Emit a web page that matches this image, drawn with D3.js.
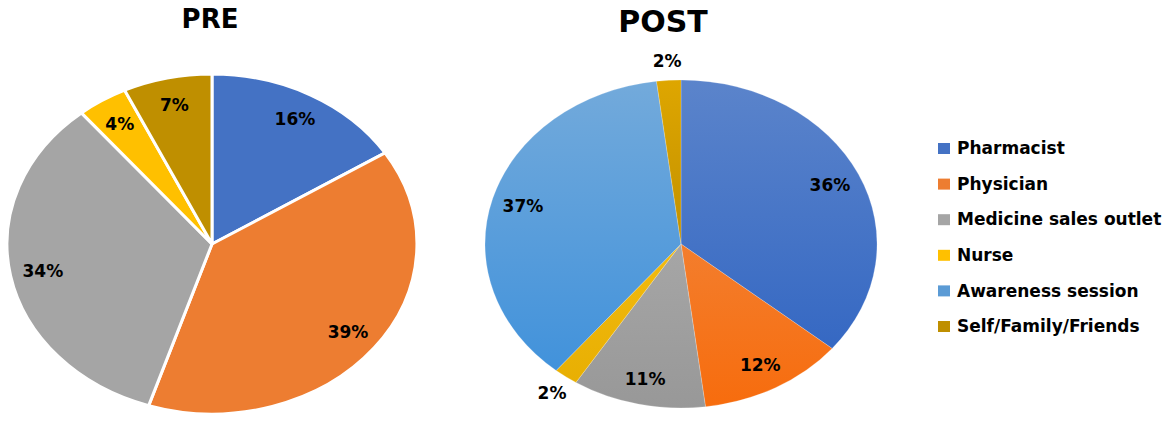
<!DOCTYPE html>
<html>
<head>
<meta charset="utf-8">
<script src="https://cdn.jsdelivr.net/npm/d3@7"></script>
<style>
  body { margin: 0; background: #fff; }
  svg text { font-family: "DejaVu Sans", Verdana, sans-serif; font-weight: bold; fill: #000; }
</style>
</head>
<body>
<svg id="chart" width="1170" height="427"></svg>
<script>
// Sources of information, same order in both pies
var categories = ["Pharmacist", "Physician", "Medicine sales outlet", "Nurse", "Awareness session", "Self/Family/Friends"];
var colors = ["#4472C4", "#ED7D31", "#A5A5A5", "#FFC000", "#5B9BD5", "#BF8F00"];

// Percentages
var preValues = [16, 39, 34, 4, 0, 7];
var postValues = [36, 12, 11, 2, 37, 2];

var svg = d3.select("#chart");

var pie = d3.pie().sort(null).value(function (d) { return d.value; });
var unitArc = d3.arc().innerRadius(0).outerRadius(1);
var defs = svg.append("defs");

// shade a colour for the top / bottom of the gradient
function shade(col, dl, ds) {
    var h = d3.hsl(col);
    h.l = Math.max(0, Math.min(1, h.l + dl));
    if (h.s > 0) h.s = Math.max(0, Math.min(1, h.s + ds));
    return h.formatHex();
}

// draws one elliptical pie; the library works on a unit circle which is then stretched
function drawPie(opts) {
    var data = categories.map(function (c, i) {
        return { key: c, value: opts.values[i], color: colors[i], idx: i };
    }).filter(function (d) { return d.value > 0; });

    var g = svg.append("g")
        .attr("transform", "translate(" + opts.cx + "," + opts.cy + ")");

    var slices = g.append("g")
        .attr("transform", "scale(" + opts.rx + "," + opts.ry + ")");

    if (opts.gradient) {
        data.forEach(function (d) {
            var grad = defs.append("linearGradient")
                .attr("id", opts.id + "-g" + d.idx)
                .attr("gradientUnits", "userSpaceOnUse")
                .attr("x1", 0).attr("y1", -1).attr("x2", 0).attr("y2", 1);
            grad.append("stop").attr("offset", "0%").attr("stop-color", shade(d.color, 0.06, 0));
            grad.append("stop").attr("offset", "100%").attr("stop-color", shade(d.color, -0.05, 0.1));
        });
    }

    slices.selectAll("path")
        .data(pie(data))
        .enter()
        .append("path")
        .attr("d", unitArc)
        .attr("fill", function (d) {
            return opts.gradient ? "url(#" + opts.id + "-g" + d.data.idx + ")" : d.data.color;
        })
        .attr("stroke", opts.strokeColor)
        .attr("stroke-width", opts.stroke)
        .attr("vector-effect", "non-scaling-stroke")
        .attr("stroke-linejoin", "round");

    // percentage labels: inside for normal slices, just outside for tiny ones
    g.selectAll("text.pct")
        .data(pie(data))
        .enter()
        .append("text")
        .attr("class", "pct")
        .attr("x", function (d) {
            var a = (d.startAngle + d.endAngle) / 2;
            var r = d.data.value < 3 ? 1.12 : 0.84;
            return Math.sin(a) * r * opts.rx;
        })
        .attr("y", function (d) {
            var a = (d.startAngle + d.endAngle) / 2;
            var r = d.data.value < 3 ? 1.12 : 0.84;
            return -Math.cos(a) * r * opts.ry;
        })
        .attr("dy", "0.36em")
        .attr("text-anchor", "middle")
        .style("font-size", "17px")
        .text(function (d) { return d.data.value + "%"; });

    // title above the pie
    svg.append("text")
        .attr("x", opts.titleX)
        .attr("y", opts.titleY)
        .attr("text-anchor", "middle")
        .style("font-size", opts.titleSize)
        .text(opts.title);
}

drawPie({ id: "pre", title: "PRE", values: preValues, cx: 212, cy: 244, rx: 205, ry: 170,
          stroke: 3, strokeColor: "#fff", gradient: false, titleX: 210, titleY: 28, titleSize: "26px" });

drawPie({ id: "post", title: "POST", values: postValues, cx: 681, cy: 244, rx: 196, ry: 164,
          stroke: 0.4, strokeColor: "rgba(255,255,255,0.5)", gradient: true, titleX: 663, titleY: 32, titleSize: "30px" });

// legend
var legendY = d3.scalePoint().domain(categories).range([148, 326]);

var legend = svg.append("g").attr("class", "legend");
var rows = legend.selectAll("g")
    .data(categories)
    .enter()
    .append("g")
    .attr("transform", function (d) { return "translate(938," + legendY(d) + ")"; });

rows.append("rect")
    .attr("x", 0)
    .attr("y", -5)
    .attr("width", 12)
    .attr("height", 11)
    .attr("fill", function (d, i) { return colors[i]; });

rows.append("text")
    .attr("x", 19)
    .attr("dy", "0.36em")
    .style("font-size", "17px")
    .text(function (d) { return d; });
</script>
</body>
</html>
